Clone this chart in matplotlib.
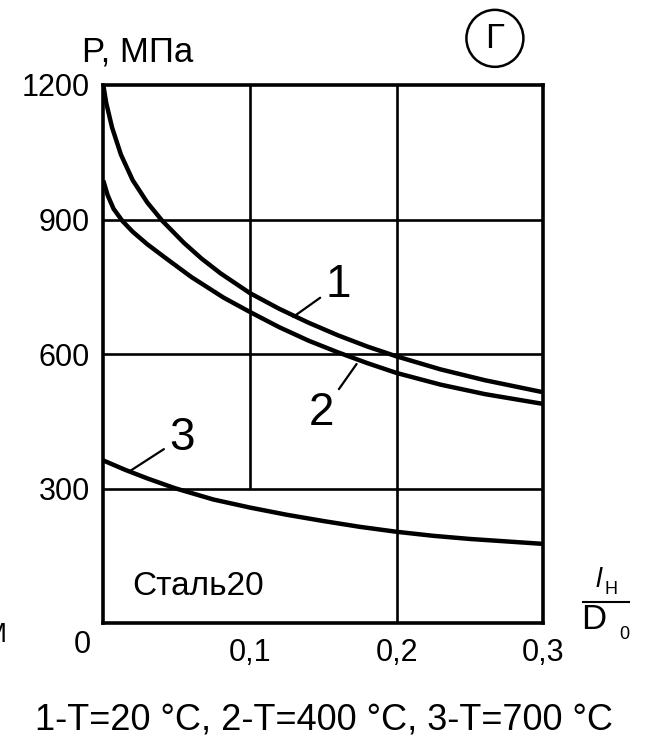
import numpy as np
import matplotlib.pyplot as plt
from matplotlib.patches import Ellipse
from matplotlib.lines import Line2D

plt.rcParams['font.family'] = ['Liberation Sans', 'DejaVu Sans']

# ДАННЫЕ
x1 = [0, 0.002, 0.006, 0.012, 0.02, 0.03, 0.04, 0.055, 0.067, 0.08, 0.1,
      0.12, 0.14, 0.16, 0.18, 0.2, 0.23, 0.26, 0.3]
p1 = [1200, 1160, 1105, 1045, 988, 938, 898, 848, 813, 780, 736,
      701, 670, 642, 617, 595, 566, 542, 515]

x2 = [0, 0.003, 0.007, 0.013, 0.02, 0.03, 0.043, 0.06, 0.082, 0.1,
      0.12, 0.14, 0.16, 0.18, 0.2, 0.23, 0.26, 0.3]
p2 = [987, 954, 924, 897, 873, 845, 813, 772, 726, 694,
      660, 630, 604, 580, 558, 532, 511, 489]

x3 = [0, 0.015, 0.03, 0.049, 0.075, 0.1, 0.125, 0.15, 0.175, 0.2, 0.225, 0.25, 0.3]
p3 = [363, 342, 323, 301, 276, 258, 242, 228, 215, 204, 195, 188, 177]

xticks = [0.1, 0.2, 0.3]
xlabels = ['0,1', '0,2', '0,3']
yticks = [300, 600, 900, 1200]
ylabels = ['300', '600', '900', '1200']

# подписи кривых: текст, позиция текста, точка на кривой
labels = ['1', '2', '3']
label_pos = [(0.160, 754), (0.149, 468), (0.0535, 414)]
label_pt = [(0.1295, 683), (0.1727, 578), (0.018, 339)]

W, H = 648, 740
fig = plt.figure(figsize=(W / 100, H / 100), dpi=100)
ax = fig.add_axes([103.3 / W, 116.7 / H, 440 / W, 538.3 / H])
ax.set_xlim(0, 0.3)
ax.set_ylim(0, 1200)

#СЕТКА
for y in [300, 600, 900]:
    ax.axhline(y, color='k', lw=1.9)
ax.vlines(0.1, 300, 1200, color='k', lw=1.9)
ax.axvline(0.2, color='k', lw=1.9)

#КРИВЫЕ
for xs, ps in [(x1, p1), (x2, p2), (x3, p3)]:
    ax.plot(xs, ps, color='k', lw=3.2, solid_capstyle='butt', solid_joinstyle='round')

for t, pos, pt in zip(labels, label_pos, label_pt):
    ax.annotate(t, xy=pt, xytext=pos, fontsize=33, ha='center', va='center',
                arrowprops=dict(arrowstyle='-', lw=1.6, color='k',
                                shrinkA=2, shrinkB=0))

for s in ax.spines.values():
    s.set_linewidth(2.6)

ax.set_xticks(xticks, xlabels)
ax.set_yticks(yticks, ylabels)
ax.tick_params(length=0, labelsize=22)
ax.tick_params(axis='y', pad=9.5)
ax.tick_params(axis='x', pad=10.5)

ax.text(-0.0142, -48, '0', fontsize=22, ha='center', va='center', clip_on=False)
ax.text(0.0196, 81, 'Сталь20', fontsize=24, ha='left', va='center')

#ПОДПИСИ ВНЕ ОСЕЙ
def px(x, y):
    return x / W, 1 - y / H

fig.text(*px(81.7, 62), 'P, МПа', fontsize=25, ha='left', va='baseline')
ax.add_patch(Ellipse((0.267, 1304), 57 / 1467, 57 / 134.6 * 300, fill=False,
                     lw=1.8, color='k', clip_on=False))
fig.text(*px(494.5, 38.5), 'Г', fontsize=25, ha='center', va='center')

fig.text(*px(599, 580), 'l', fontsize=20, style='italic', ha='center', va='center')
fig.text(*px(611, 590), 'Н', fontsize=13, ha='center', va='center')
fig.add_artist(Line2D([582.7 / W, 629.3 / W], [1 - 601.7 / H] * 2, color='k', lw=1.5))
fig.text(*px(594, 619.5), 'D', fontsize=25, ha='center', va='center')
fig.text(*px(624, 634.5), '0', fontsize=13, ha='center', va='center')

fig.text(*px(7, 635), 'М', fontsize=20, ha='right', va='center')

fig.text(*px(324, 720), '1-T=20 °C, 2-T=400 °C, 3-T=700 °C', fontsize=26,
         ha='center', va='center')

fig.savefig('out.png', dpi=100)
